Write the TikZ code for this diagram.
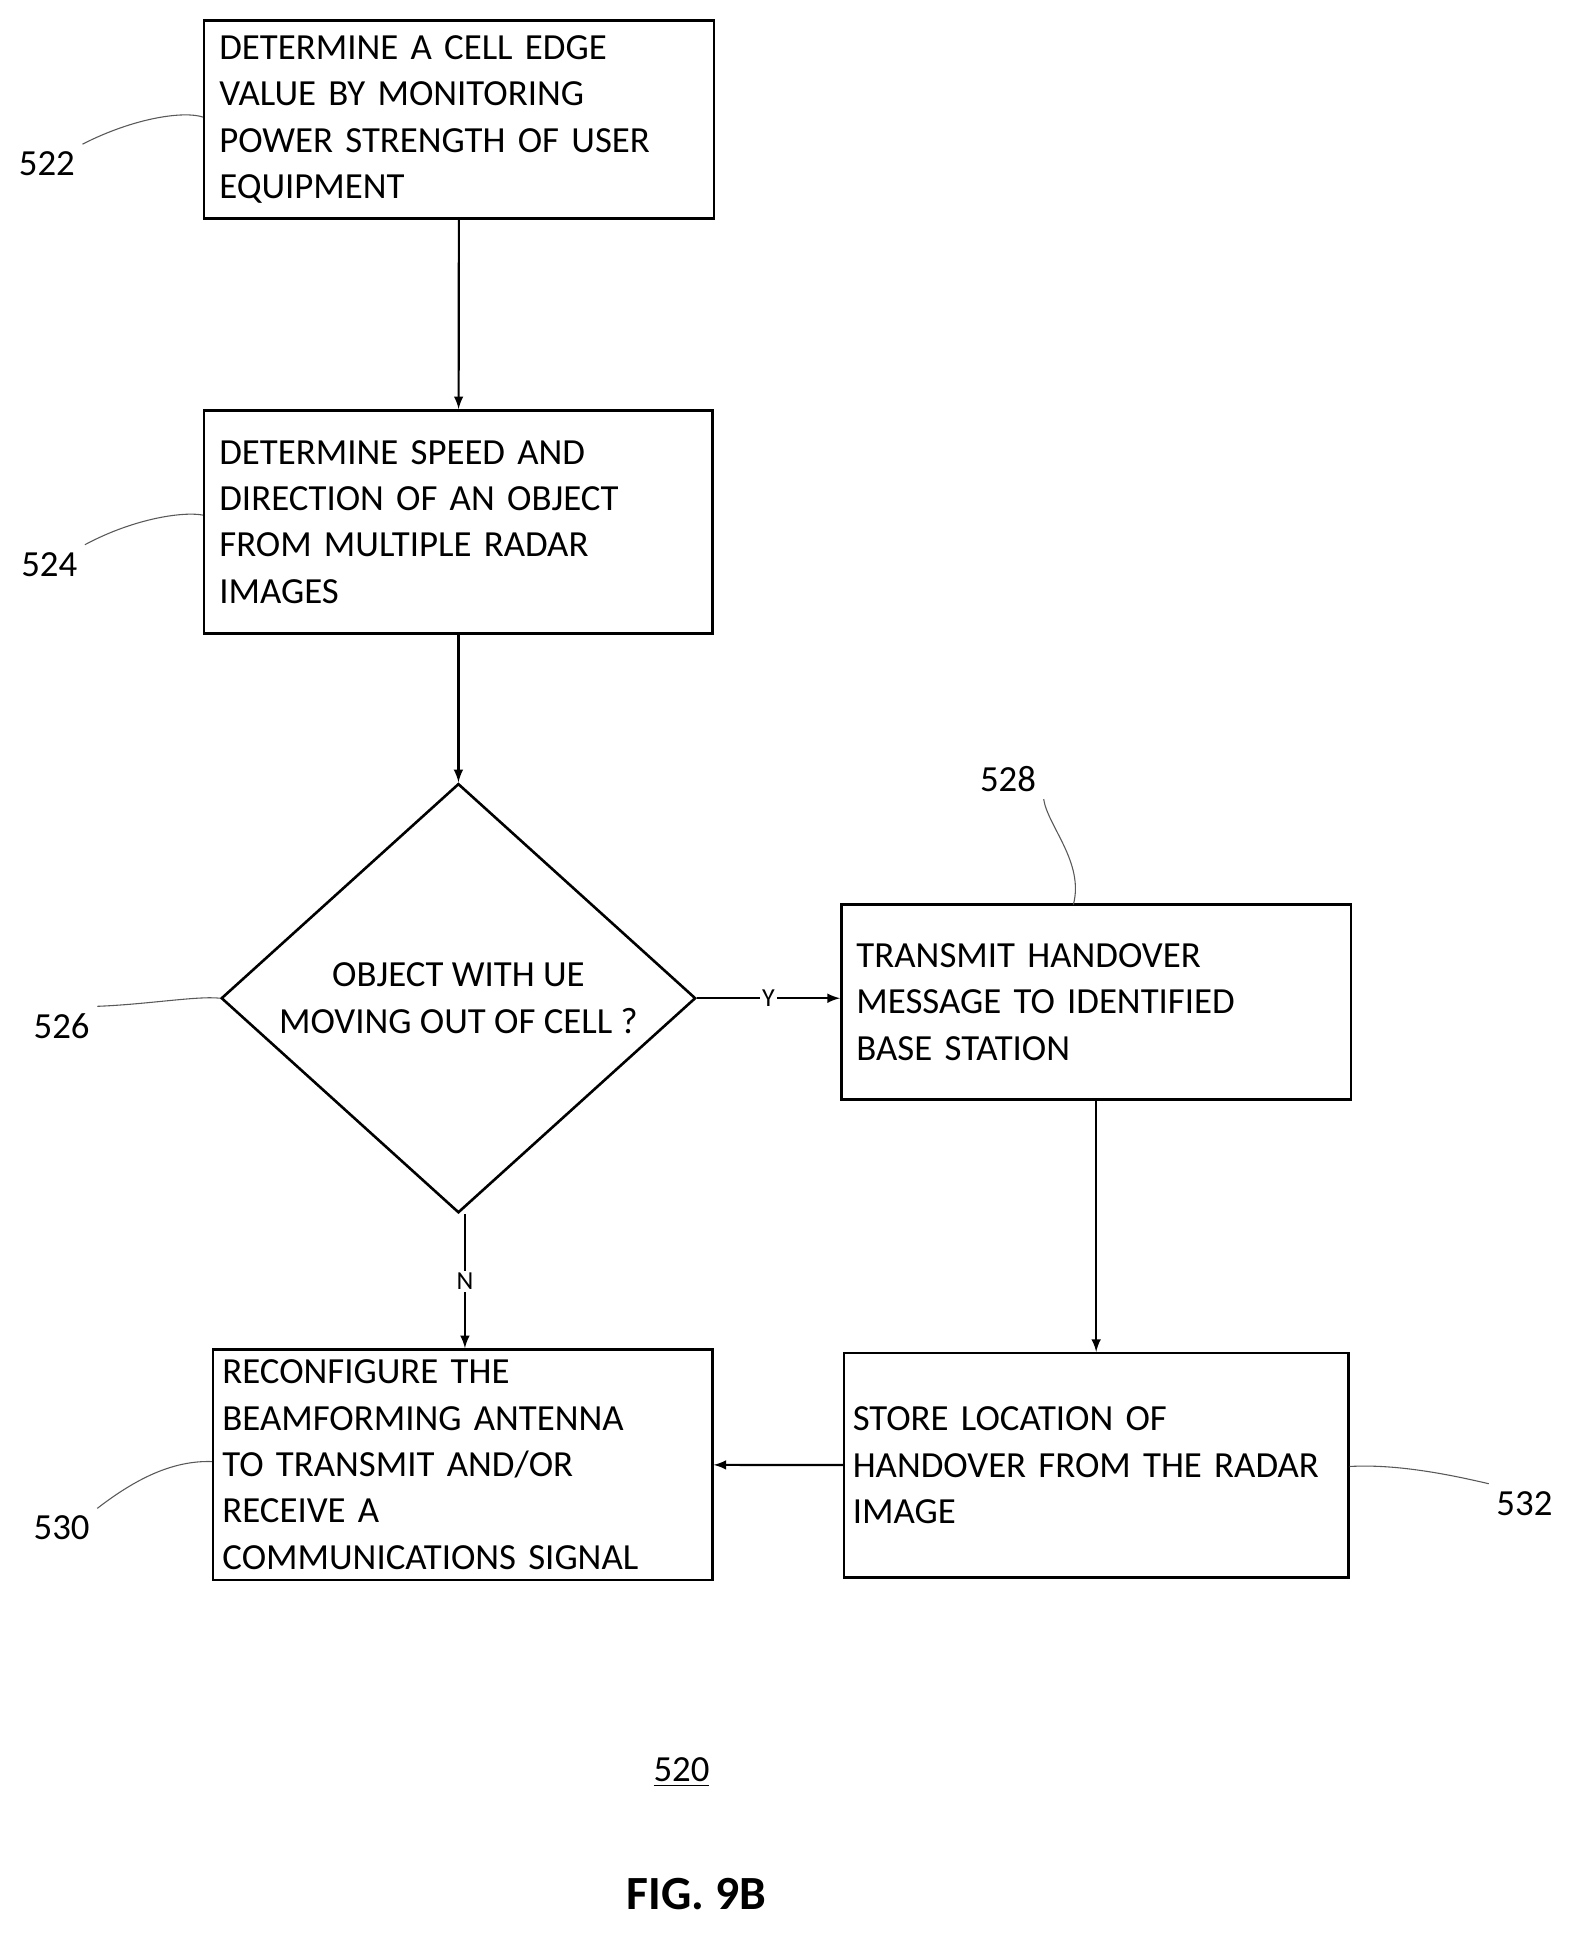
\documentclass[tikz,border=0pt]{standalone}
\usepackage{fontspec}
\setmainfont{Carlito}
\usetikzlibrary{shapes.geometric, arrows}
\newcommand{\lbl}[1]{\fontsize{17pt}{21.4pt}\selectfont #1}
\begin{document}
\begin{tikzpicture}[x=0.2mm, y=-0.2mm]
        \tikzstyle{box}  = [draw, line width=1.2pt, inner sep=7pt, align=left, font=\lbl{}]
        \tikzstyle{dec}  = [draw, line width=1.2pt, diamond, inner sep=0pt, align=center, font=\lbl{}]
        \tikzstyle{flow} = [->, >=latex, line width=1pt]
        \tikzstyle{lead} = [line width=0.5pt, gray!70!black]
        \tikzstyle{num}  = [font=\lbl{}]

        \useasboundingbox (0,0) rectangle (1280,1571);

        % Blocurile.
        \node[box, minimum width=81.8mm, minimum height=32mm, text width=77.8mm] (b522) at (372.5,97)
            {DETERMINE A CELL EDGE\\VALUE BY MONITORING\\POWER STRENGTH OF USER\\EQUIPMENT};
        \node[box, minimum width=81.6mm, minimum height=36.2mm, text width=77.6mm] (b524) at (372,423.5)
            {DETERMINE SPEED AND\\DIRECTION OF AN OBJECT\\FROM MULTIPLE RADAR\\IMAGES};
        \node[dec, minimum width=77mm, minimum height=57.4mm] (b526) at (372,810)
            {OBJECT WITH UE\\MOVING OUT OF CELL ?};
        \node[box, minimum width=81.8mm, minimum height=31.6mm, text width=77.8mm] (b528) at (889.5,813)
            {TRANSMIT HANDOVER\\MESSAGE TO IDENTIFIED\\BASE STATION};
        \node[box, minimum width=81mm, minimum height=37.4mm, text width=78mm, inner sep=4pt] (b530) at (375.5,1188.5)
            {RECONFIGURE THE\\BEAMFORMING ANTENNA\\TO TRANSMIT AND/OR\\RECEIVE A\\COMMUNICATIONS SIGNAL};
        \node[box, minimum width=81.8mm, minimum height=36.4mm, text width=79mm, inner sep=4pt] (b532) at (889.5,1189)
            {STORE LOCATION OF\\HANDOVER FROM THE RADAR\\IMAGE};

        % Sagetile.
        \draw[flow] (b522) -- (b524);
        \draw[flow] (b524) -- (b526);
        \draw[flow] (b526.east) -- node[font=\fontsize{12pt}{14pt}\selectfont, fill=white, inner sep=1pt]{Y} (b526.east -| b528.west);
        \draw[flow] ([xshift=3] b526.south) -- node[font=\fontsize{12pt}{14pt}\selectfont, fill=white, inner sep=1pt]{N} ([xshift=3] b526.south |- b530.north);
        \draw[flow] (b528) -- (b532);
        \draw[flow] (b532) -- (b530);

        % Etichetele.
        \node[num] (n522) at (38,133) {522};
        \node[num] (n524) at (40,458) {524};
        \node[num] (n526) at (50,833) {526};
        \node[num] (n528) at (818,632) {528};
        \node[num] (n530) at (50,1240) {530};
        \node[num] (n532) at (1237,1220) {532};
        \draw[lead] (n522.north east) .. controls (110,95) and (150,90) .. (b522.west |- 0,95);
        \draw[lead] (n524.north east) .. controls (110,420) and (150,415) .. (b524.west |- 0,418);
        \draw[lead] (n526.north east) .. controls (120,815) and (160,808) .. (b526.west);
        \draw[lead] (n528.south east) .. controls (850,670) and (880,700) .. (871,734);
        \draw[lead] (n530.north east) .. controls (110,1200) and (140,1185) .. (b530.west |- 0,1186);
        \draw[lead] (n532.north west) .. controls (1170,1195) and (1130,1188) .. (b532.east |- 0,1190);

        % Legenda figurii.
        \node[num] (n520) at (553,1438) {\underline{520}};
        \node[font=\fontsize{22pt}{26pt}\selectfont\bfseries\rmfamily] (fig) at (565,1537) {FIG. 9B};
    \end{tikzpicture}
\end{document}
